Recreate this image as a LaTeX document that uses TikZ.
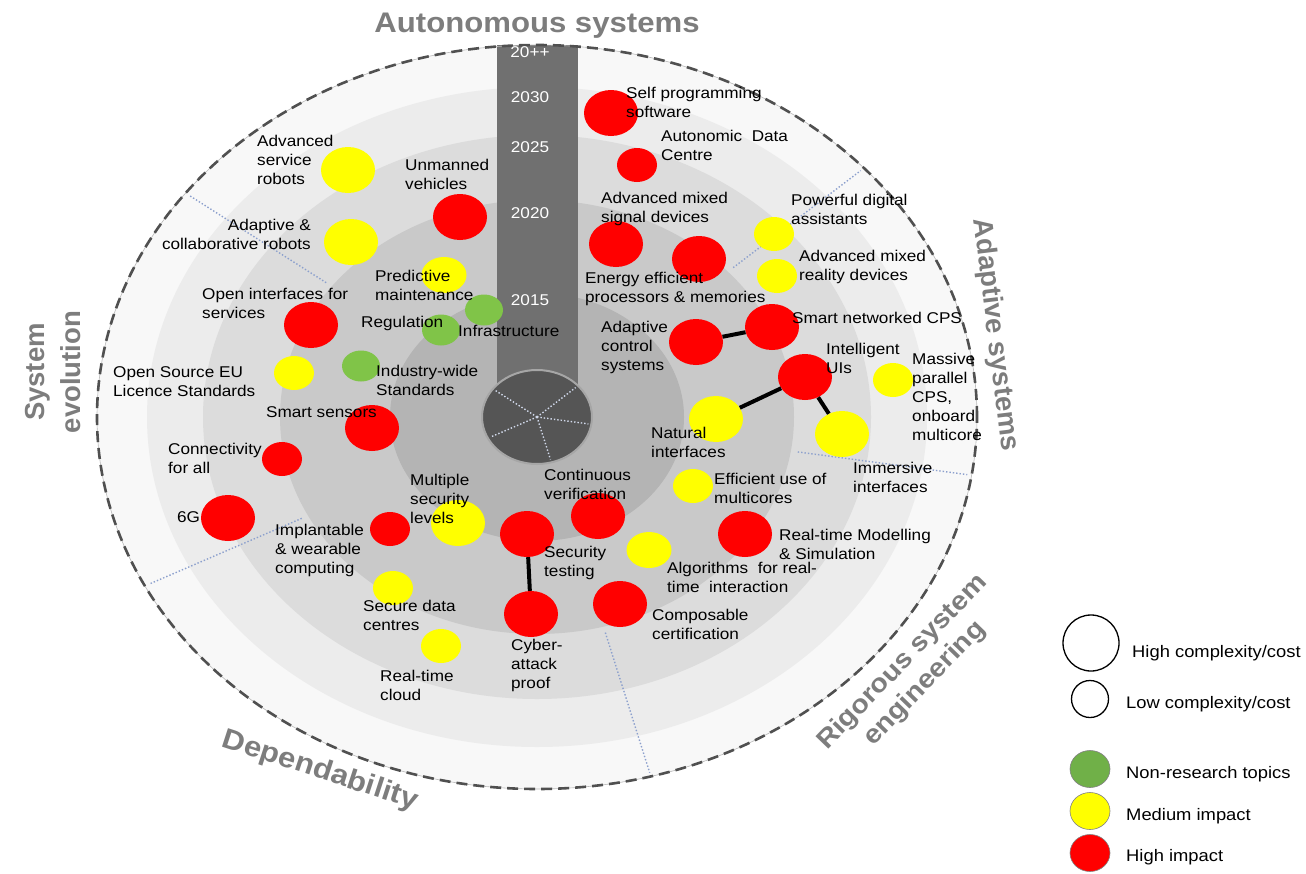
\documentclass[tikz,border=0pt]{standalone}
\usepackage{fontspec}
\setmainfont{Liberation Sans}[FakeStretch=1.1]
\newfontfamily\plainsans{Liberation Sans}
\usetikzlibrary{shapes.geometric}

\definecolor{bubred}{RGB}{255,0,0}
\definecolor{bubyellow}{RGB}{255,255,0}
\definecolor{bubgreen}{RGB}{128,196,72}
\definecolor{leggreen}{RGB}{112,176,72}
\definecolor{titlegray}{RGB}{125,125,125}
\definecolor{bargray}{RGB}{112,112,112}
\definecolor{hubgray}{RGB}{85,85,85}
\definecolor{dashgray}{RGB}{80,80,80}
\definecolor{spokeblue}{RGB}{140,160,205}
\definecolor{ringzero}{RGB}{248,248,248}
\definecolor{ringone}{RGB}{236,236,236}
\definecolor{ringtwo}{RGB}{220,220,220}
\definecolor{ringthree}{RGB}{201,201,201}
\definecolor{ringfour}{RGB}{180,180,180}

\newcommand{\lblfont}{\fontsize{15.6}{19}\selectfont}
\newcommand{\legfont}{\fontsize{16.7}{20}\selectfont}

\begin{document}
\begin{tikzpicture}[x=1pt,y=-1pt,
  bub/.style={ellipse,inner sep=0pt},
  bigbub/.style={bub,minimum width=54pt,minimum height=46pt},
  smallbub/.style={bub,minimum width=40pt,minimum height=34pt},
  midbub/.style={bub,minimum width=45pt,minimum height=36pt},
  greenbub/.style={bub,fill=bubgreen,minimum width=38pt,minimum height=31pt},
  highimp/.style={fill=bubred},
  medimp/.style={fill=bubyellow},
  lbl/.style={anchor=north west,align=left,inner sep=0pt,font=\lblfont},
  link/.style={line width=4pt,black},
  yearlbl/.style={text=white,inner sep=0pt,font=\lblfont},
  ttl/.style={text=titlegray,inner sep=0pt,font=\bfseries\fontsize{28.3}{32}\selectfont},
  vttl/.style={text=titlegray,inner sep=0pt,font=\plainsans\bfseries\fontsize{27.5}{36}\selectfont},
  spoke/.style={spokeblue,line width=1.4pt,dotted},
  hubspoke/.style={spokeblue!40!white,line width=1.4pt,dotted},
  legbub/.style={circle,inner sep=0pt,fill=white,draw=black,line width=1.3pt},
  legdot/.style={ellipse,inner sep=0pt,draw=gray,line width=0.6pt,minimum width=40pt,minimum height=37pt},
  legtxt/.style={anchor=west,inner sep=0pt,font=\legfont}]

\useasboundingbox (0,0) rectangle (1306,873);
\fill[white] (0,0) rectangle (1306,873);

%rings
\fill[ringzero] (537,417) ellipse [x radius=440pt, y radius=372pt];
\fill[ringone] (537,417) ellipse [x radius=390pt, y radius=330pt];
\fill[ringtwo] (537,417) ellipse [x radius=334pt, y radius=282pt];
\fill[ringthree] (537,417) ellipse [x radius=257pt, y radius=217pt];
\fill[ringfour] (537,417) ellipse [x radius=147pt, y radius=124pt];

%sector lines
\foreach \t in {217,318,9,153,75} {
\draw[spoke] ({537+0.6*440*cos(\t)},{417+0.6*372*sin(\t)}) -- ({537+0.99*440*cos(\t)},{417+0.99*372*sin(\t)});
}

%timeline bar
\fill[bargray] (497,45) rectangle (578,400);

%outline
\draw[gray!55, line width=0.6pt] (537,417) ellipse [x radius=440pt, y radius=372pt];
\draw[dashgray, line width=2.6pt, dash pattern=on 11pt off 6pt] (537,417) ellipse [x radius=440pt, y radius=372pt];

%hub
\node[ellipse, fill=hubgray, draw=gray!70, line width=2pt, minimum width=110pt, minimum height=94pt] (hub) at (537,417) {};
\foreach \t in {217,318,9,153,75} {
\draw[hubspoke] (hub.center) -- ({537+52*cos(\t)},{417+44*sin(\t)});
}

%years
\node[yearlbl] (y20pp) at (530,52) {20++};
\node[yearlbl] (y2030) at (530,97) {2030};
\node[yearlbl] (y2025) at (530,147) {2025};
\node[yearlbl] (y2020) at (530,213) {2020};
\node[yearlbl] (y2015) at (530,300) {2015};

%bubbles
\node[bigbub, medimp] (asr) at (348,170) {};
\node[bigbub, highimp] (unv) at (460,217) {};
\node[bigbub, medimp] (acr) at (351,242) {};
\node[midbub, medimp] (pdm) at (444,275) {};
\node[greenbub] (infra) at (484,310) {};
\node[greenbub] (reg) at (441,330) {};
\node[bigbub, highimp] (oif) at (311,325) {};
\node[greenbub] (iws) at (361,366) {};
\node[smallbub, medimp] (oss) at (294,373) {};
\node[bigbub, highimp] (ssn) at (372,428) {};
\node[smallbub, highimp] (cfa) at (282,459) {};
\node[bigbub, highimp] (sixg) at (228,518) {};
\node[smallbub, highimp] (iwc) at (390,529) {};
\node[bigbub, medimp] (msl) at (458,523) {};
\node[smallbub, medimp] (sdc) at (393,588) {};
\node[smallbub, medimp] (rtc) at (441,646) {};
\node[bigbub, highimp] (stest) at (527,534) {};
\node[bigbub, highimp] (cap) at (531,614) {};
\node[bigbub, highimp] (cver) at (598,516) {};
\node[midbub, medimp] (alg) at (649,550) {};
\node[bigbub, highimp] (ccert) at (620,604) {};
\node[smallbub, medimp] (eum) at (693,486) {};
\node[bigbub, highimp] (rtms) at (745,534) {};
\node[bigbub, medimp] (natif) at (716,419) {};
\node[bigbub, highimp] (iui) at (805,377) {};
\node[bigbub, medimp] (immif) at (842,434) {};
\node[smallbub, medimp] (mpcps) at (893,380) {};
\node[bigbub, highimp] (acs) at (696,342) {};
\node[bigbub, highimp] (sncps) at (772,327) {};
\node[bigbub, highimp] (eepm) at (699,259) {};
\node[bigbub, highimp] (amsd) at (616,244) {};
\node[smallbub, medimp] (pda) at (774,234) {};
\node[smallbub, medimp] (amrd) at (777,276) {};
\node[bigbub, highimp] (spsw) at (611,113) {};
\node[smallbub, highimp] (adc) at (637,165) {};

%links
\draw[link] (acs) -- (sncps);
\draw[link] (iui) -- (natif);
\draw[link] (iui) -- (immif);
\draw[link] (stest) -- (cap);

%labels
\node[lbl] (asrtxt) at (257,135) {Advanced\\service\\robots};
\node[lbl] (unvtxt) at (405,159) {Unmanned\\vehicles};
\node[lbl, anchor=north east, align=right] (acrtxt) at (311,219) {Adaptive \&\\collaborative robots};
\node[lbl] (pdmtxt) at (375,270) {Predictive\\maintenance};
\node[lbl] (infratxt) at (458,325) {Infrastructure};
\node[lbl] (regtxt) at (361,316) {Regulation};
\node[lbl] (oiftxt) at (202,288) {Open interfaces for\\services};
\node[lbl] (iwstxt) at (376,365) {Industry-wide\\Standards};
\node[lbl] (osstxt) at (113,366) {Open Source EU\\Licence Standards};
\node[lbl] (ssntxt) at (266,406) {Smart sensors};
\node[lbl] (cfatxt) at (168,443) {Connectivity\\for all};
\node[lbl] (sixgtxt) at (177,511) {6G};
\node[lbl] (iwctxt) at (275,524) {Implantable\\\& wearable\\computing};
\node[lbl] (msltxt) at (410,474) {Multiple\\security\\levels};
\node[lbl] (sdctxt) at (363,600) {Secure data\\centres};
\node[lbl] (rtctxt) at (380,670) {Real-time\\cloud};
\node[lbl] (stesttxt) at (544,546) {Security\\testing};
\node[lbl] (captxt) at (511,639) {Cyber-\\attack\\proof};
\node[lbl] (cvertxt) at (544,469) {Continuous\\verification};
\node[lbl] (algtxt) at (667,562) {Algorithms~ for real-\\time~ interaction};
\node[lbl] (ccerttxt) at (652,609) {Composable\\certification};
\node[lbl] (eumtxt) at (714,473) {Efficient use of\\multicores};
\node[lbl] (rtmstxt) at (779,529) {Real-time Modelling\\\& Simulation};
\node[lbl] (natiftxt) at (651,427) {Natural\\interfaces};
\node[lbl] (iuitxt) at (826,343) {Intelligent\\UIs};
\node[lbl] (immiftxt) at (853,462) {Immersive\\interfaces};
\node[lbl] (mpcpstxt) at (912,353) {Massive\\parallel\\CPS,\\onboard\\multicore};
\node[lbl] (acstxt) at (601,321) {Adaptive\\control\\systems};
\node[lbl] (sncpstxt) at (792,312) {Smart networked CPS};
\node[lbl] (eepmtxt) at (585,272) {Energy efficient\\processors \& memories};
\node[lbl] (amsdtxt) at (601,192) {Advanced mixed\\signal devices};
\node[lbl] (pdatxt) at (791,194) {Powerful digital\\assistants};
\node[lbl] (amrdtxt) at (799,250) {Advanced mixed\\reality devices};
\node[lbl] (spswtxt) at (626,87) {Self programming\\software};
\node[lbl] (adctxt) at (661,130) {Autonomic~ Data\\Centre};

%titles
\node[ttl, anchor=base] (autottl) at (537,32) {Autonomous systems};
\node[vttl, rotate=-83] (adaptttl) at (995,335) {Adaptive systems};
\node[vttl, rotate=90, align=center] (evolttl) at (53,372) {System\\evolution};
\node[ttl, rotate=-18] (depttl) at (320,771) {Dependability};
\node[ttl, rotate=46, align=center, font=\bfseries\fontsize{26}{31}\selectfont] (rigttl) at (914,673) {Rigorous system\\engineering};

%legend
\node[legbub, minimum size=56pt] (lghigh) at (1091,643) {};
\node[legbub, minimum size=37pt] (lglow) at (1090,699) {};
\node[legdot, fill=leggreen] (lgnon) at (1090,769) {};
\node[legdot, fill=bubyellow] (lgmed) at (1090,811) {};
\node[legdot, fill=bubred] (lgred) at (1090,853) {};
\node[legtxt] (lghightxt) at (1132,653) {High complexity/cost};
\node[legtxt] (lglowtxt) at (1126,704) {Low complexity/cost};
\node[legtxt] (lgnontxt) at (1126,774) {Non-research topics};
\node[legtxt] (lgmedtxt) at (1126,816) {Medium impact};
\node[legtxt] (lgredtxt) at (1126,857) {High impact};
\end{tikzpicture}
\end{document}
